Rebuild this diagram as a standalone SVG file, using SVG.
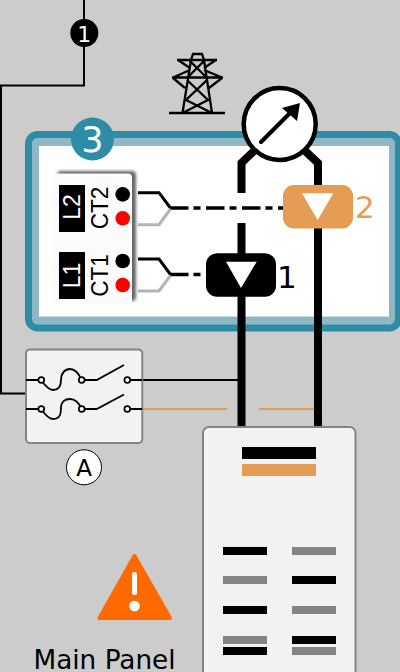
<svg xmlns="http://www.w3.org/2000/svg" width="400" height="672" viewBox="0 0 400 672">
<defs>
<filter id="sh" x="-20%" y="-20%" width="140%" height="140%"><feGaussianBlur stdDeviation="1.800"/></filter>
<filter id="soft" x="-10%" y="-10%" width="120%" height="120%"><feGaussianBlur stdDeviation="0.400"/></filter>
</defs>
<style>
text{font-family:"DejaVu Sans",sans-serif}
.ls{font-family:"Liberation Sans",sans-serif;text-anchor:middle}
.w{fill:none;stroke:#000;stroke-width:2}
.bus{fill:none;stroke:#000;stroke-width:8}
.term{fill:#fff;stroke:#000;stroke-width:1.700}
.blk{fill:#000}.gry{fill:#848484}.org{fill:#e59c55}
.tw{fill:none;stroke:#000;stroke-width:1.800}
.dd{fill:none;stroke:#000;stroke-width:3.500;stroke-dasharray:18.500 5 7 5.500}
.fb{fill:none;stroke:#000;stroke-width:3}
.fg{fill:none;stroke:#b3b3b3;stroke-width:3}
</style>
<rect width="400" height="672" fill="#cccccc"/>
<g id="connectors">
<path class="w" d="M84 0V85.500H1V393.500H26"/>
<path class="w" d="M128 380H240"/>
<path fill="none" stroke="#e59c55" stroke-width="2" d="M128 409H227M259 409H314"/>
</g>
<g id="panel-frame">
<rect x="28.500" y="134.500" width="370" height="193.500" rx="9" fill="#8fb8c6" stroke="#2e8ca6" stroke-width="7"/>
<rect x="39" y="146" width="350" height="170.500" fill="#fff"/>
</g>
<g id="buses">
<path class="bus" d="M241.500 193V163L257 148M241.500 223V428"/>
<path class="bus" d="M318 428V163L302 148"/>
<path class="dd" d="M170 208H284"/>
<path class="dd" d="M170 274.500H208"/>
<path class="fb" d="M138 192.700H159L170.500 208"/>
<path class="fg" d="M138 224.700H159L170.500 209"/>
<path class="fb" d="M138 259H159L170.500 274.500"/>
<path class="fg" d="M138 291H159L170.500 275.500"/>
</g>
<g id="marker-1"><circle cx="84.300" cy="33" r="14" fill="#000"/><text x="84.300" y="42" font-size="22" fill="#fff" text-anchor="middle">1</text></g>
<g id="tower" filter="url(#soft)">
<path fill="none" stroke="#000" stroke-width="2.300" d="M169 113H225M182.500 113L191 60L193 54H202L204 60L212 113M177 60H217M172 77.500H223M178 60L190 68M216 60L204 68M173 77.500L190 70M222 77.500L204 70M189 60L206 77M205 60L188 77M187 80L208 100L182.500 113M207 80L186 100L212 113M185 88L173 78M209 88L222 78"/>
</g>
<g id="meter">
<circle cx="279.700" cy="124" r="36" fill="#fff" stroke="#000" stroke-width="4.500"/>
<path d="M261 142L290 113" stroke="#000" stroke-width="4" stroke-linecap="round"/>
<path d="M300 103L282 108L297 121Z" fill="#000"/>
</g>
<g id="marker-3"><circle cx="92.500" cy="139" r="21.500" fill="#2e8ca6"/><text x="92.500" y="151.500" font-size="35" fill="#fff" text-anchor="middle">3</text></g>
<g id="ct-card">
<rect x="57" y="171" width="79" height="130" rx="4" fill="#666" filter="url(#sh)"/>
<rect x="53" y="173.500" width="79" height="130.500" rx="4" fill="#fbfbfb"/>
<rect x="59" y="185" width="26" height="47" fill="#000"/>
<rect x="59" y="252" width="26" height="47" fill="#000"/>
<text class="ls" transform="translate(80 207) rotate(-90)" font-size="23" fill="#fff">L2</text>
<text class="ls" transform="translate(80 275.500) rotate(-90)" font-size="23" fill="#fff">L1</text>
<text class="ls" transform="translate(108 208) rotate(-90) scale(.94 1)" font-size="24" fill="#000">CT2</text>
<text class="ls" transform="translate(108 275.500) rotate(-90) scale(.94 1)" font-size="24" fill="#000">CT1</text>
<circle cx="122.700" cy="194.400" r="7.300" fill="#000"/>
<circle cx="122.700" cy="218.300" r="7.300" fill="#f00"/>
<circle cx="122.700" cy="261" r="7.300" fill="#000"/>
<circle cx="122.700" cy="285" r="7.300" fill="#f00"/>
</g>
<g id="sensor-2">
<rect x="283" y="185" width="70" height="43.500" rx="11" fill="#e59c55"/>
<path d="M302 193.300H333.300L317.700 220Z" fill="#fff"/>
<text x="355" y="217.500" font-size="31" fill="#e59c55">2</text>
</g>
<g id="sensor-1">
<rect x="206" y="253.300" width="70" height="43.500" rx="11" fill="#000"/>
<path d="M226 261.700H256.700L241 288Z" fill="#fff"/>
<text x="277" y="287.500" font-size="31" fill="#000">1</text>
</g>
<g id="breaker-A">
<rect x="26" y="349.500" width="116.300" height="93.500" rx="4" fill="#f2f2f2" stroke="#848484" stroke-width="2"/>
<path class="tw" d="M26 380H41M41 380C46 387 49 390 53 390C61 390 61 383 61 380C61 373 65 369 70 369C76 369 79 374 81.700 380H96.700L124 365M127 380H142"/>
<path class="tw" d="M26 409H41M41 409C46 416 49 419 53 419C61 419 61 412 61 408C61 402 65 399 70 399C76 399 79 403 81.700 409H96.700L124 394.500M127 409H142"/>
<circle class="term" cx="41.300" cy="380" r="2.900"/><circle class="term" cx="81.700" cy="380" r="2.900"/><circle class="term" cx="127.300" cy="380" r="2.900"/>
<circle class="term" cx="41.300" cy="409" r="2.900"/><circle class="term" cx="81.700" cy="409" r="2.900"/><circle class="term" cx="127.300" cy="409" r="2.900"/>
</g>
<g id="label-A"><circle cx="84" cy="467.300" r="17.500" fill="#fff" stroke="#000" stroke-width="1"/><text x="84" y="476" font-size="23" fill="#000" text-anchor="middle">A</text></g>
<g id="main-panel">
<rect x="203" y="427" width="152.500" height="260" rx="6" fill="#f2f2f2" stroke="#848484" stroke-width="2"/>
<rect class="blk" x="242" y="447" width="74" height="12"/>
<rect class="org" x="242" y="464" width="74" height="12"/>
<rect class="blk" x="223" y="547" width="44" height="8"/><rect class="gry" x="292" y="547" width="44" height="8"/>
<rect class="gry" x="223" y="576" width="44" height="8"/><rect class="blk" x="292" y="576" width="44" height="8"/>
<rect class="blk" x="223" y="606" width="44" height="8"/><rect class="gry" x="292" y="606" width="44" height="8"/>
<rect class="gry" x="223" y="636" width="44" height="8"/><rect class="blk" x="292" y="636" width="44" height="8"/>
<rect class="blk" x="223" y="647" width="44" height="8"/><rect class="gry" x="292" y="647" width="44" height="8"/>
</g>
<g id="warning">
<path d="M134.500 556L170 618H99.500Z" fill="#ff6a00" stroke="#ff6a00" stroke-width="4" stroke-linejoin="round"/>
<path d="M134.500 574.500V592.500" stroke="#fff" stroke-width="5" stroke-linecap="round"/>
<circle cx="134.500" cy="606" r="5.300" fill="#fff"/>
</g>
<text id="label-main-panel" x="33.500" y="669" font-size="26.300" fill="#000">Main Panel</text>
</svg>
